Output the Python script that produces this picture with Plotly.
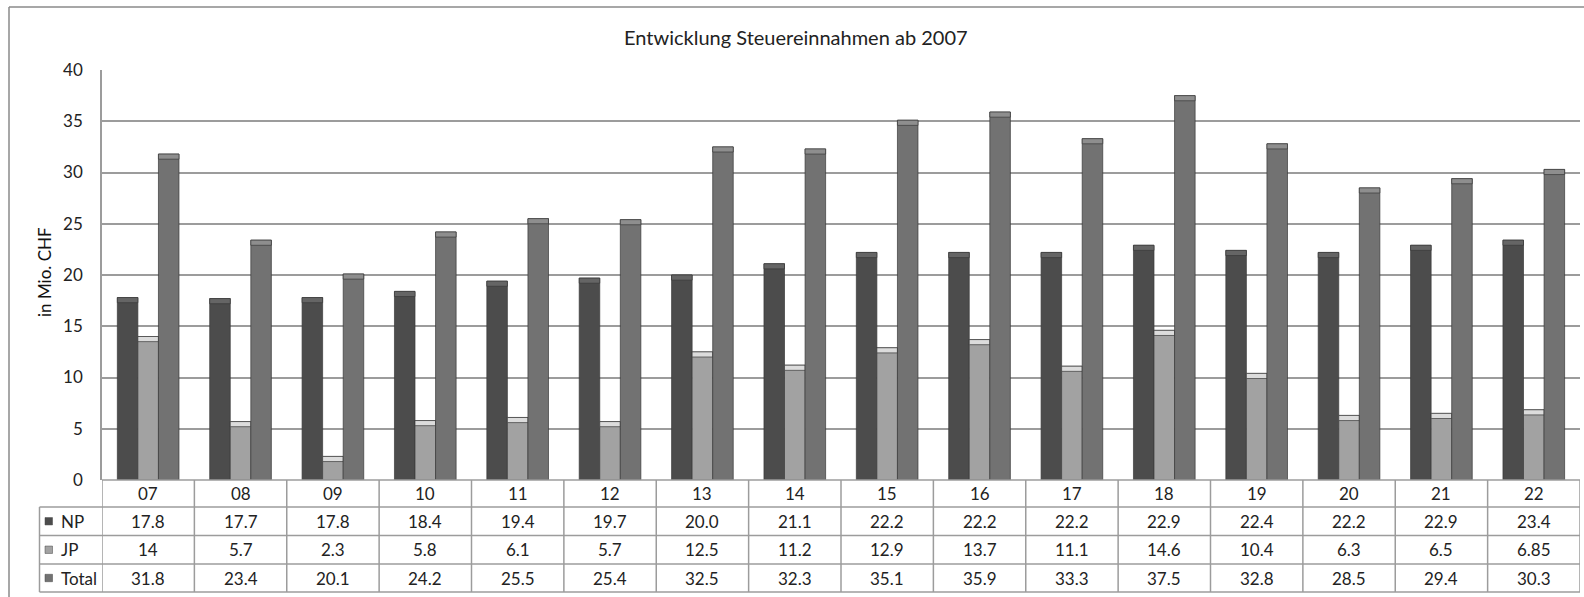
import plotly.graph_objects as go

categories = ["07", "08", "09", "10", "11", "12", "13", "14", "15", "16", "17", "18", "19", "20", "21", "22"]
np_values = [17.8, 17.7, 17.8, 18.4, 19.4, 19.7, 20.0, 21.1, 22.2, 22.2, 22.2, 22.9, 22.4, 22.2, 22.9, 23.4]
jp_values = [14, 5.7, 2.3, 5.8, 6.1, 5.7, 12.5, 11.2, 12.9, 13.7, 11.1, 14.6, 10.4, 6.3, 6.5, 6.85]
total_values = [31.8, 23.4, 20.1, 24.2, 25.5, 25.4, 32.5, 32.3, 35.1, 35.9, 33.3, 37.5, 32.8, 28.5, 29.4, 30.3]
np_labels = ["17.8", "17.7", "17.8", "18.4", "19.4", "19.7", "20.0", "21.1", "22.2", "22.2", "22.2", "22.9", "22.4", "22.2", "22.9", "23.4"]
jp_labels = ["14", "5.7", "2.3", "5.8", "6.1", "5.7", "12.5", "11.2", "12.9", "13.7", "11.1", "14.6", "10.4", "6.3", "6.5", "6.85"]
total_labels = ["31.8", "23.4", "20.1", "24.2", "25.5", "25.4", "32.5", "32.3", "35.1", "35.9", "33.3", "37.5", "32.8", "28.5", "29.4", "30.3"]
series_names = ["NP", "JP", "Total"]
series_colors = ["#4c4c4c", "#a2a2a2", "#727272"]
cap_colors = ["#656565", "#dcdcdc", "#8e8e8e"]

W, H = 1584, 597
L, R, T, B = 102, 1580, 70, 480
FONT = "Lato"
GRID = "#9c9c9c"
TXT = "#222222"
BAR_W = 0.2225
GROUP_START = -0.334
CAP = 0.5


def py(ypix):
    return (B - ypix) / (B - T)


def px(xpix):
    return (xpix - L) / (R - L)


fig = go.Figure()
for k, (name, vals, col, cap) in enumerate(zip(series_names, [np_values, jp_values, total_values],
                                               series_colors, cap_colors)):
    off = GROUP_START + k * BAR_W
    fig.add_trace(go.Bar(x=categories, y=vals, name=name, offset=off, width=BAR_W,
                         marker=dict(color=col, line=dict(color="#3a3a3a", width=0.7)),
                         showlegend=False))
    fig.add_trace(go.Bar(x=categories, y=[CAP] * len(vals), base=[v - CAP for v in vals],
                         offset=off, width=BAR_W, hoverinfo="skip",
                         marker=dict(color=cap, line=dict(color="#3a3a3a", width=0.7)), showlegend=False))

shapes = []
annotations = []
n = len(categories)
row_bounds = [480, 507, 535.5, 564, 592]
line_style = dict(color=GRID, width=1.5)
shapes.append(dict(type="line", xref="paper", yref="paper", x0=0, x1=1,
                   y0=py(row_bounds[0]), y1=py(row_bounds[0]), line=line_style))
for yb in row_bounds[1:]:
    shapes.append(dict(type="line", xref="paper", yref="paper", x0=px(39.5), x1=1,
                       y0=py(yb), y1=py(yb), line=line_style))
for i in range(n + 1):
    shapes.append(dict(type="line", xref="x", yref="paper", x0=i - 0.5, x1=i - 0.5,
                       y0=py(row_bounds[0]), y1=py(row_bounds[-1]), line=line_style))
shapes.append(dict(type="line", xref="paper", yref="paper", x0=px(39.5), x1=px(39.5),
                   y0=py(row_bounds[1]), y1=py(row_bounds[-1]), line=line_style))
# outer chart border (top and left)
shapes.append(dict(type="line", xref="paper", yref="paper", x0=px(9), x1=px(1600), y0=py(7), y1=py(7),
                   line=dict(color="#8a8a8a", width=1.5)))
shapes.append(dict(type="line", xref="paper", yref="paper", x0=px(9), x1=px(9), y0=py(7), y1=py(620),
                   line=dict(color="#8a8a8a", width=1.5)))

for i, c in enumerate(categories):
    annotations.append(dict(x=i, y=py((row_bounds[0] + row_bounds[1]) / 2), xref="x", yref="paper", text=c,
                            xanchor="center", yanchor="middle", showarrow=False,
                            font=dict(family=FONT, size=17, color=TXT)))
for r, (name, labs, col) in enumerate(zip(series_names, [np_labels, jp_labels, total_labels], series_colors)):
    yc = py((row_bounds[r + 1] + row_bounds[r + 2]) / 2)
    for i, t in enumerate(labs):
        annotations.append(dict(x=i, y=yc, xref="x", yref="paper", text=t, showarrow=False,
                                xanchor="center", yanchor="middle",
                                font=dict(family=FONT, size=17, color=TXT)))
    shapes.append(dict(type="rect", xref="paper", yref="paper", x0=px(45), x1=px(52.5),
                       y0=yc - 3.7 / (B - T), y1=yc + 3.7 / (B - T),
                       fillcolor=col, line=dict(color="#444", width=0.5)))
    annotations.append(dict(x=px(59), y=yc, xref="paper", yref="paper", text=name, showarrow=False,
                            xanchor="left", yanchor="middle",
                            font=dict(family=FONT, size=17, color=TXT)))

annotations.append(dict(x=px(44), y=py(272), xref="paper", yref="paper", text="in Mio. CHF", textangle=-90,
                        xanchor="center", yanchor="middle", showarrow=False,
                        font=dict(family=FONT, size=17, color="#111")))
annotations.append(dict(x=px(796), y=py(37), xref="paper", yref="paper", text="Entwicklung Steuereinnahmen ab 2007",
                        xanchor="center", yanchor="middle", showarrow=False,
                        font=dict(family=FONT, size=20, color=TXT)))

fig.update_layout(
    width=W, height=H,
    margin=dict(l=L, r=W - R, t=T, b=H - B, pad=0),
    paper_bgcolor="white", plot_bgcolor="white",
    barmode="overlay",
    shapes=shapes, annotations=annotations,
    xaxis=dict(type="category", range=[-0.5, n - 0.5], showticklabels=False, showgrid=False,
               zeroline=False, showline=False, ticks=""),
    yaxis=dict(range=[0, 40], dtick=5, showgrid=True, gridcolor=GRID, gridwidth=1.5, zeroline=False,
               showline=True, linecolor=GRID, linewidth=1.5, ticks="", ticklabelstandoff=14,
               tickfont=dict(family=FONT, size=17, color=TXT)),
    font=dict(family=FONT),
)

fig.write_html("out.html", config={"displayModeBar": False},
               post_script="document.body.style.margin='0px';document.body.style.overflow='hidden';")
